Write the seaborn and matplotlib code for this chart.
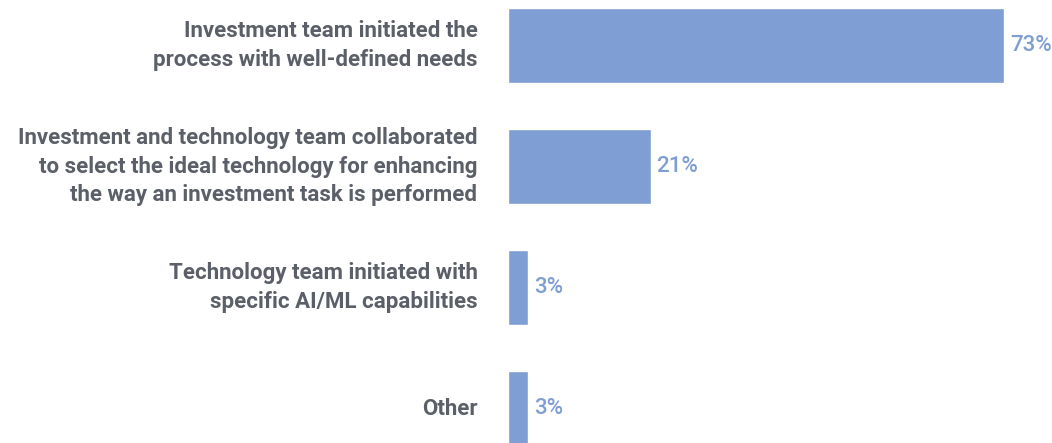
import matplotlib
matplotlib.use("Agg")
import matplotlib.pyplot as plt
import seaborn as sns
import pandas as pd

# Survey responses (share of respondents, %)
categories = [
    "Investment team initiated the\nprocess with well-defined needs",
    "Investment and technology team collaborated\nto select the ideal technology for enhancing\nthe way an investment task is performed",
    "Technology team initiated with\nspecific AI/ML capabilities",
    "Other",
]
values = [73, 21, 3, 3]

bar_color = "#7f9ed3"
label_color = "#5b5f68"

sns.set_theme(style="white")
plt.rcParams["font.family"] = ["Roboto", "DejaVu Sans"]

df = pd.DataFrame({"category": categories, "value": values})

fig = plt.figure(figsize=(10.52, 4.43), dpi=100)
ax = fig.add_axes([508 / 1052, 0, 1 - 508 / 1052, 1])

sns.barplot(data=df, x="value", y="category", color=bar_color,
            saturation=1, width=0.62, ax=ax)

# value labels at the end of each bar
for i, v in enumerate(values):
    ax.text(v + 0.8, i, f"{v}%", va="center", ha="left",
            fontsize=16, fontweight="medium", color=bar_color)

ax.set_xlim(0, 80)
ax.set_ylim(3.285, -0.376)
ax.set_xlabel("")
ax.set_ylabel("")
ax.set_xticks([])
ax.tick_params(axis="y", length=0, pad=22)
for lbl in ax.get_yticklabels():
    lbl.set_fontsize(16)
    lbl.set_fontweight("bold")
    lbl.set_color(label_color)
    lbl.set_linespacing(1.4)
    lbl.set_verticalalignment("center")
    lbl.set_horizontalalignment("right")
    lbl.set_multialignment("right")
sns.despine(ax=ax, left=True, bottom=True)

fig.savefig("out.png", dpi=100)
